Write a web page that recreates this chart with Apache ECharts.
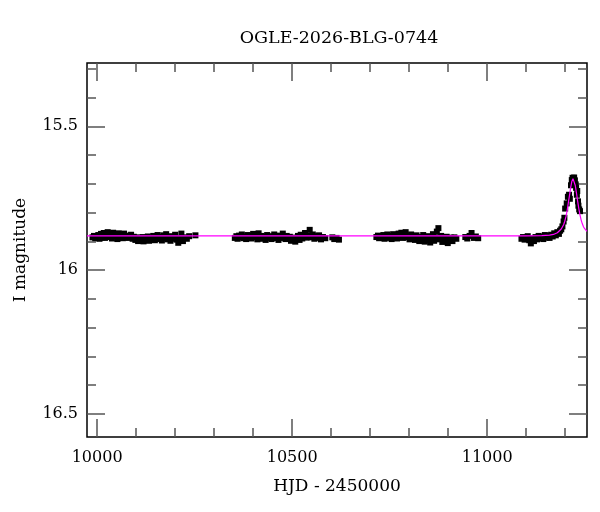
<!DOCTYPE html>
<html>
<head>
<meta charset="utf-8">
<script src="https://cdn.jsdelivr.net/npm/echarts@6/dist/echarts.min.js"></script>
<style>html,body{margin:0;padding:0;background:#fff;}#c{width:600px;height:512px;}</style>
</head>
<body>
<div id="c"></div>
<script>
// ---- data ----
const titleText = 'OGLE-2026-BLG-0744';
const xName = 'HJD - 2450000';
const yName = 'I magnitude';
const xMajor = [10000, 10500, 11000];
const xMinor = [10100, 10200, 10300, 10400, 10600, 10700, 10800, 10900, 11100, 11200];
const yMajor = [15.5, 16, 16.5];
const yMinor = [15.3, 15.4, 15.6, 15.7, 15.8, 15.9, 16.1, 16.2, 16.3, 16.4];

const s1T = [9988,9992,9995,9999,10003,10006,10010,10013,10017,10020,10024,10027,10031,10034,10038,10041,10045,10048,10052,10055,10059,10062,10066,10069,10073,10077,10080,10084,10087,10091,10094,10098,10101,10105,10108,10112,10116,10119,10123,10126,10130,10133,10137,10141,10144,10148,10151,10155,10159,10162,10166,10170,10173,10177,10181,10185,10188,10192,10196,10200,10204,10208,10212,10216,10220,10225,10230,10236,10252];
const s1M = [15.886,15.881,15.889,15.883,15.878,15.891,15.874,15.886,15.871,15.888,15.876,15.868,15.885,15.873,15.890,15.870,15.881,15.875,15.892,15.872,15.884,15.878,15.889,15.873,15.886,15.880,15.888,15.882,15.877,15.891,15.884,15.895,15.886,15.899,15.891,15.896,15.885,15.900,15.889,15.894,15.883,15.898,15.888,15.893,15.881,15.896,15.887,15.878,15.892,15.884,15.897,15.879,15.890,15.875,15.893,15.886,15.898,15.882,15.891,15.877,15.894,15.905,15.888,15.873,15.899,15.886,15.891,15.882,15.879];

const s2T = [10353,10357,10360,10364,10368,10371,10375,10378,10382,10386,10389,10393,10396,10400,10404,10407,10411,10414,10418,10422,10425,10429,10432,10436,10440,10443,10447,10450,10454,10458,10461,10465,10468,10472,10476,10479,10483,10486,10490,10494,10497,10501,10504,10508,10512,10515,10519,10522,10526,10530,10533,10537,10541,10545,10549,10553,10557,10561,10565,10569,10574,10579,10585,10603,10608,10614,10620];
const s2M = [15.888,15.882,15.891,15.880,15.886,15.876,15.889,15.883,15.892,15.878,15.887,15.881,15.890,15.874,15.885,15.879,15.893,15.872,15.886,15.881,15.891,15.884,15.895,15.878,15.888,15.882,15.892,15.886,15.876,15.889,15.883,15.895,15.880,15.888,15.873,15.886,15.892,15.881,15.889,15.884,15.898,15.887,15.893,15.901,15.888,15.881,15.895,15.877,15.890,15.884,15.871,15.887,15.880,15.860,15.886,15.876,15.891,15.882,15.888,15.879,15.893,15.885,15.889,15.886,15.892,15.888,15.894];

const s3T = [10716,10720,10723,10727,10730,10734,10737,10741,10744,10748,10752,10755,10759,10762,10766,10769,10773,10777,10780,10784,10787,10791,10794,10798,10801,10805,10808,10812,10815,10819,10822,10826,10829,10833,10836,10840,10843,10847,10850,10854,10857,10861,10864,10868,10871,10875,10878,10882,10885,10889,10892,10896,10899,10903,10907,10911,10916,10921,10944,10949,10955,10960,10966,10971,10977];
const s3M = [15.885,15.880,15.889,15.882,15.887,15.878,15.891,15.883,15.876,15.888,15.881,15.892,15.875,15.886,15.879,15.890,15.873,15.884,15.870,15.888,15.877,15.868,15.886,15.881,15.893,15.876,15.888,15.882,15.895,15.879,15.891,15.899,15.885,15.894,15.878,15.901,15.889,15.896,15.882,15.904,15.891,15.875,15.898,15.886,15.866,15.854,15.893,15.881,15.902,15.889,15.897,15.884,15.906,15.892,15.887,15.899,15.886,15.891,15.885,15.890,15.881,15.871,15.888,15.883,15.889];

const s4T = [11088,11092,11096,11100,11104,11108,11112,11116,11120,11124,11128,11132,11136,11140,11144,11148,11152,11156,11160,11164,11168,11172,11176,11180,11184,11187,11190,11193,11196,11198,11200,11204,11207,11210,11212,11215,11217,11219,11221,11223,11225,11227,11228,11230,11231,11233,11234,11236,11238];
const s4M = [15.891,15.885,15.894,15.888,15.882,15.896,15.907,15.890,15.899,15.885,15.893,15.881,15.889,15.884,15.892,15.878,15.887,15.881,15.888,15.877,15.883,15.872,15.879,15.868,15.874,15.863,15.858,15.848,15.831,15.818,15.786,15.768,15.745,15.738,15.752,15.705,15.687,15.679,15.683,15.678,15.688,15.702,15.714,15.738,15.725,15.761,15.776,15.789,15.795];

const modelT = [9974,11100,11140,11160,11170,11180,11185,11190,11193,11196,11199,11202,11205,11208,11211,11214,11217,11220,11223,11226,11229,11232,11235,11238,11241,11244,11247,11250,11253,11256];
const modelM = [15.881,15.881,15.880,15.878,15.876,15.870,15.865,15.857,15.851,15.842,15.830,15.814,15.794,15.767,15.741,15.714,15.692,15.682,15.688,15.706,15.732,15.760,15.786,15.808,15.826,15.839,15.849,15.856,15.861,15.865];

// ---- build ----
const FONT = 'DejaVu Serif';
const obs = [];
[[s1T,s1M],[s2T,s2M],[s3T,s3M],[s4T,s4M]].forEach(([t,m]) => t.forEach((v,i) => obs.push([v, m[i]])));
const model = modelT.map((v,i) => [v, modelM[i]]);

const XMIN = 9974, XMAX = 11256, YMIN = 15.28, YMAX = 16.58;
const tickColor = '#555';
function xAx(pos, vals, len, label, extra) {
  return Object.assign({
    type: 'value', min: XMIN, max: XMAX, position: pos,
    axisLine: { show: false }, splitLine: { show: false },
    axisTick: { show: true, inside: true, length: len, customValues: vals, lineStyle: { color: tickColor, width: 1.5 } },
    axisLabel: label ? { show: true, customValues: vals, margin: 13, color: '#000', fontFamily: FONT, fontSize: 16, formatter: v => String(v) } : { show: false }
  }, extra || {});
}
function yAx(pos, vals, len, label, extra) {
  return Object.assign({
    type: 'value', min: YMIN, max: YMAX, inverse: true, position: pos,
    axisLine: { show: false }, splitLine: { show: false },
    axisTick: { show: true, inside: true, length: len, customValues: vals, lineStyle: { color: tickColor, width: 1.5 } },
    axisLabel: label ? { show: true, customValues: vals, margin: 9, color: '#000', fontFamily: FONT, fontSize: 16, formatter: v => String(v) } : { show: false }
  }, extra || {});
}

const chart = echarts.init(document.getElementById('c'), null, { renderer: 'canvas' });
chart.setOption({
  animation: false,
  backgroundColor: '#fff',
  title: { text: titleText, left: 334, top: 24, textAlign: 'center', textStyle: { fontFamily: FONT, fontSize: 17.5, fontWeight: 'normal', color: '#000' } },
  grid: { left: 87, right: 13, top: 63, bottom: 75, show: true, borderColor: '#000', borderWidth: 1.5, backgroundColor: 'transparent' },
  xAxis: [
    xAx('bottom', xMajor, 18, true, { name: xName, nameLocation: 'middle', nameGap: 41, nameTextStyle: { fontFamily: FONT, fontSize: 17, color: '#000' } }),
    xAx('bottom', xMinor, 9, false),
    xAx('top', xMajor, 18, false),
    xAx('top', xMinor, 9, false)
  ],
  yAxis: [
    yAx('left', yMajor, 18, true, { name: yName, nameLocation: 'middle', nameGap: 58, nameRotate: 90, nameTextStyle: { fontFamily: FONT, fontSize: 17, color: '#000' } }),
    yAx('left', yMinor, 9, false),
    yAx('right', yMajor, 18, false),
    yAx('right', yMinor, 9, false)
  ],
  series: [
    { type: 'scatter', data: obs, symbol: 'rect', symbolSize: [6, 6], itemStyle: { color: '#000', opacity: 1 }, z: 2, silent: true },
    { type: 'line', data: model, showSymbol: false, lineStyle: { color: '#ff00ff', width: 1.2 }, z: 3, silent: true, clip: true }
  ]
});
</script>
</body>
</html>
